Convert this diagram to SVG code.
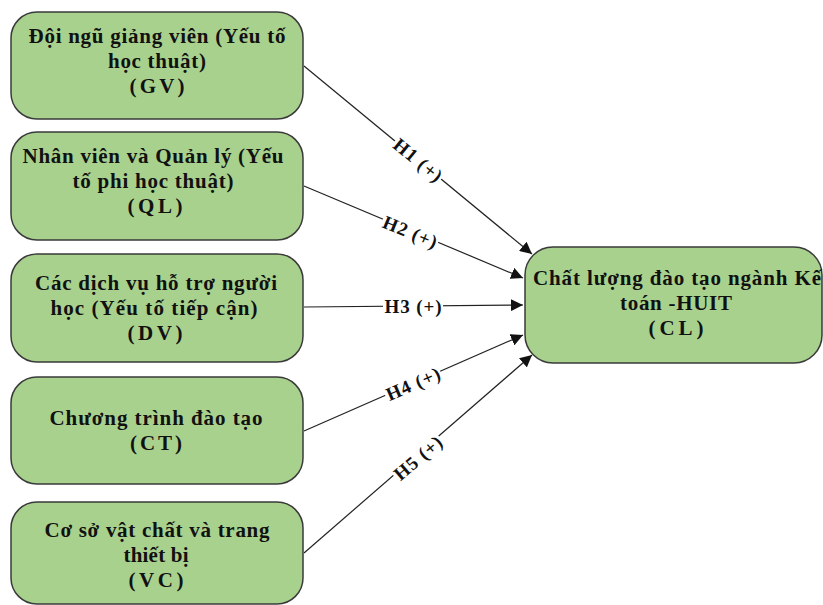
<svg xmlns="http://www.w3.org/2000/svg" width="823" height="605" viewBox="0 0 823 605">
  <style>
    .box { fill: #a9d18e; stroke: #3a3a3a; stroke-width: 1.5; }
    .t { font-family: "Liberation Serif", "Times New Roman", serif; font-weight: bold; font-size: 21px; fill: #111; text-anchor: middle; }
    .edge { stroke: #222; stroke-width: 1.2; fill: none; marker-end: url(#arrow); }
    .lbl { font-family: "Liberation Serif", "Times New Roman", serif; font-weight: bold; font-size: 19px; fill: #111; text-anchor: middle; dominant-baseline: central; }
    .lblbg { fill: #ffffff; }
  </style>
  <defs>
    <marker id="arrow" viewBox="0 0 10 10" refX="10" refY="5" markerWidth="12" markerHeight="12" markerUnits="userSpaceOnUse" orient="auto">
      <path d="M0,0 L10,5 L0,10 z" fill="#111"/>
    </marker>
  </defs>
  <rect width="823" height="605" fill="#ffffff"/>

  <!-- connectors -->
  <g id="connectors">
    <line class="edge" x1="304" y1="66" x2="532" y2="254"/>
    <line class="edge" x1="304" y1="186" x2="523" y2="278"/>
    <line class="edge" x1="304" y1="307" x2="523" y2="305"/>
    <line class="edge" x1="304" y1="431" x2="523" y2="335"/>
    <line class="edge" x1="304" y1="553" x2="532" y2="355"/>

    <g transform="translate(418,160) rotate(39.5)">
      <rect class="lblbg" x="-30" y="-9" width="60" height="18"/>
      <text class="lbl" x="0" y="0" textLength="57" lengthAdjust="spacing">H1 (+)</text>
    </g>
    <g transform="translate(410,232) rotate(22.8)">
      <rect class="lblbg" x="-30" y="-9" width="60" height="18"/>
      <text class="lbl" x="0" y="0" textLength="57" lengthAdjust="spacing">H2 (+)</text>
    </g>
    <g transform="translate(413,306)">
      <rect class="lblbg" x="-30" y="-9" width="60" height="18"/>
      <text class="lbl" x="0" y="0" textLength="57" lengthAdjust="spacing">H3 (+)</text>
    </g>
    <g transform="translate(413,384) rotate(-23.5)">
      <rect class="lblbg" x="-30" y="-9" width="60" height="18"/>
      <text class="lbl" x="0" y="0" textLength="57" lengthAdjust="spacing">H4 (+)</text>
    </g>
    <g transform="translate(418,458) rotate(-40.5)">
      <rect class="lblbg" x="-30" y="-9" width="60" height="18"/>
      <text class="lbl" x="0" y="0" textLength="57" lengthAdjust="spacing">H5 (+)</text>
    </g>
  </g>

  <g id="GV">
    <rect class="box" x="11" y="12" width="292" height="107" rx="26"/>
    <text class="t" x="157" y="43" textLength="257" lengthAdjust="spacing">Đội ngũ giảng viên (Yếu tố</text>
    <text class="t" x="157" y="68" textLength="98" lengthAdjust="spacing">học thuật)</text>
    <text class="t" x="157" y="93" textLength="55" lengthAdjust="spacing">(GV)</text>
  </g>
  <g id="QL">
    <rect class="box" x="11" y="132" width="292" height="108" rx="26"/>
    <text class="t" x="153" y="163" textLength="261" lengthAdjust="spacing">Nhân viên và Quản lý (Yếu</text>
    <text class="t" x="153" y="188" textLength="161" lengthAdjust="spacing">tố phi học thuật)</text>
    <text class="t" x="155" y="213" textLength="55" lengthAdjust="spacing">(QL)</text>
  </g>
  <g id="DV">
    <rect class="box" x="11" y="254" width="292" height="108" rx="26"/>
    <text class="t" x="156" y="290" textLength="242" lengthAdjust="spacing">Các dịch vụ hỗ trợ người</text>
    <text class="t" x="154" y="315" textLength="207" lengthAdjust="spacing">học (Yếu tố tiếp cận)</text>
    <text class="t" x="155" y="340" textLength="55" lengthAdjust="spacing">(DV)</text>
  </g>
  <g id="CT">
    <rect class="box" x="11" y="377" width="292" height="107" rx="26"/>
    <text class="t" x="156" y="425" textLength="213" lengthAdjust="spacing">Chương trình đào tạo</text>
    <text class="t" x="156" y="450" textLength="52" lengthAdjust="spacing">(CT)</text>
  </g>
  <g id="VC">
    <rect class="box" x="11" y="502" width="292" height="102" rx="26"/>
    <text class="t" x="157" y="537" textLength="225" lengthAdjust="spacing">Cơ sở vật chất và trang</text>
    <text class="t" x="156" y="562" textLength="65" lengthAdjust="spacing">thiết bị</text>
    <text class="t" x="156" y="587" textLength="55" lengthAdjust="spacing">(VC)</text>
  </g>
  <g id="CL">
    <rect class="box" x="525" y="247" width="297" height="116" rx="28"/>
    <text class="t" x="677" y="285" textLength="288" lengthAdjust="spacing">Chất lượng đào tạo ngành Kế</text>
    <text class="t" x="676" y="310" textLength="112" lengthAdjust="spacing">toán -HUIT</text>
    <text class="t" x="676" y="335" textLength="55" lengthAdjust="spacing">(CL)</text>
  </g>
</svg>
